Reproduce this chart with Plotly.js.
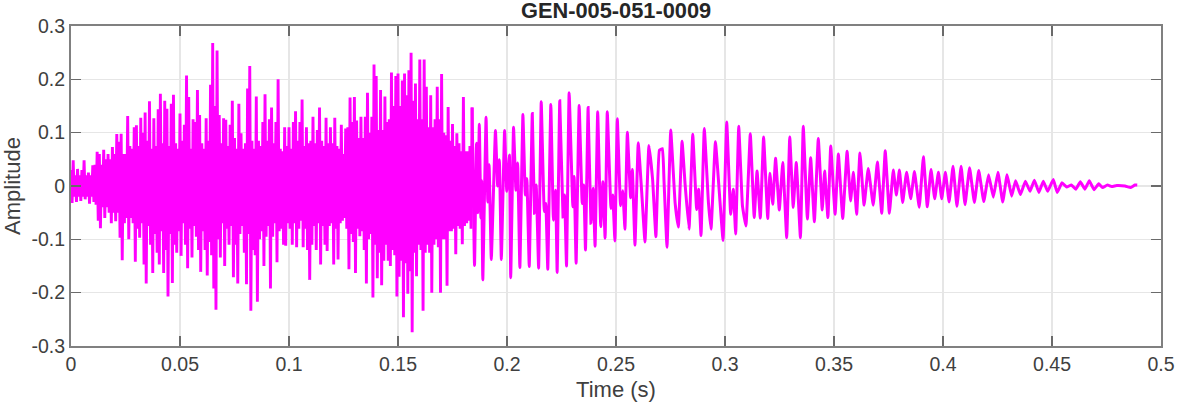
<!DOCTYPE html>
<html>
<head>
<meta charset="utf-8">
<script src="https://cdn.plot.ly/plotly-3.0.1.min.js"></script>
<style>html,body{margin:0;padding:0;background:#fff}#chart{width:1177px;height:404px}</style>
</head>
<body>
<div id="chart"></div>
<script>
const chartTitle = "GEN-005-051-0009";
const xTitle = "Time (s)";
const yTitle = "Amplitude";
const xTickVals = [0,0.05,0.1,0.15,0.2,0.25,0.3,0.35,0.4,0.45,0.5];
const xTickText = ["0","0.05","0.1","0.15","0.2","0.25","0.3","0.35","0.4","0.45","0.5"];
const yTickVals = [-0.3,-0.2,-0.1,0,0.1,0.2,0.3];
const yTickText = ["-0.3","-0.2","-0.1","0","0.1","0.2","0.3"];

// Dense part of the recording, read at one value each 0.5 ms (ten ms per row).
const denseStepSeconds = 0.0005;
const denseAmplitude = [
.03,-.032,.048,-.02,.02,-.03,.032,-.02,.02,-.028,.03,-.02,.048,-.025,.02,-.02,.025,-.033,.02,-.02,
.039,-.03,.04,-.035,.064,-.065,.06,-.079,.04,-.04,.068,-.06,.05,-.04,.06,-.05,.05,-.07,.073,-.05,
.06,-.066,.0975,-.05,.083,-.097,.098,-.139,.06,-.07,.06,-.06,.131,-.1,.075,-.06,.07,-.07,.11,-.142,
.114,-.08,.075,-.097,.128,-.07,.1,-.147,.138,-.183,.085,-.075,.159,-.11,.07,-.163,.127,-.09,.075,-.125,
.144,-.147,.173,-.085,.08,-.163,.16,-.12,.145,-.207,.075,-.09,.154,-.182,.171,-.11,.08,-.125,.07,-.085,
.136,-.131,.085,-.07,.115,-.11,.207,-.154,.167,-.08,.07,-.134,.125,-.075,.12,-.095,.18,-.12,.133,-.161,
.08,-.085,.07,-.12,.127,-.168,.085,-.105,.19,-.13,.268,-.192,.15,-.232,.254,-.1,.133,-.134,.08,-.07,
.127,-.15,.124,-.08,.075,-.11,.115,-.075,.16,-.171,.09,-.11,.07,-.183,.154,-.09,.099,-.075,.07,-.125,
.08,-.184,.183,-.09,.225,-.234,.085,-.12,.07,-.13,.168,-.217,.085,-.1,.075,-.085,.12,-.15,.172,-.095,
.085,-.075,.125,-.192,.147,-.095,.08,-.07,.12,-.143,.2,-.085,.07,-.08,.065,-.11,.11,-.112,.075,-.07,
.11,-.08,.07,-.11,.12,-.07,.14,-.115,.085,-.08,.12,-.065,.162,-.115,.075,-.08,.11,-.12,.08,-.176,
.085,-.11,.13,-.075,.08,-.12,.105,-.07,.147,-.147,.085,-.075,.075,-.11,.128,-.122,.08,-.075,.11,-.07,
.08,-.147,.128,-.08,.075,-.138,.07,-.07,.115,-.065,.06,-.06,.108,-.08,.11,-.156,.166,-.09,.12,-.105,
.167,-.163,.123,-.08,.09,-.094,.13,-.085,.09,-.12,.13,-.183,.175,-.1,.1,-.09,.13,-.209,.228,-.11,
.206,-.173,.105,-.125,.18,-.186,.105,-.14,.168,-.11,.12,-.14,.125,-.15,.213,-.12,.15,-.13,.206,-.207,
.211,-.17,.15,-.14,.198,-.246,.211,-.145,.17,-.202,.217,-.16,.25,-.274,.16,-.125,.192,-.169,.125,-.11,
.237,-.12,.125,-.234,.237,-.125,.186,-.11,.11,-.125,.17,-.2,.11,-.11,.125,-.1,.186,-.115,.125,-.2,
.21,-.1,.1,-.1,.095,-.187,.148,-.085,.085,-.085,.116,-.08,.075,-.128,.099,-.075,.08,-.08,.065,-.109,
.167,-.075,.065,-.07,.065,-.065,.075,-.08,.147
];

// Open part of the recording: turning points, time in milliseconds.
const tailMs = [
184,185.1,186,186.6,187.3,188,188.4,188.9,190.4,191.2,191.8,192.8,194.7,195.7,196.5,197.4,198.9,199.9,201.1,201.7,
203,204.1,204.9,205.9,207.3,208.4,209.1,210.2,211.6,212.6,213.4,214.5,215.7,217.1,217.8,218.7,220.1,221.3,222.3,223,
224.2,225.7,226.4,227.3,228.5,230.2,230.8,231.7,233.1,234.5,235.2,236,237.2,238.5,239.5,240.4,241.6,243,244,245,
246,247.7,248.5,249.5,250.6,252.1,253.1,254.1,255.2,256.7,257.5,258.7,260.2,261.8,263.3,265.1,266.8,268.3,269.9,271.3,
272,273.4,275.1,277.1,278.6,280.3,281.7,283.5,285.2,287,287.9,289,290.5,292.4,293.6,295.6,297.4,299.1,300.8,302.6,
303.8,304.9,306.3,308,309.6,311.6,313.4,314.7,316.2,317.7,319.6,320.6,321.9,323.2,324.9,326.5,328.3,329.7,331.3,332.7,
334.6,335.9,337.8,339.3,341,342.8,344.6,345.7,347.2,348.5,350.5,352,354,356,357.6,358.9,360.4,361.9,363.8,365.7,
368,369.9,371.9,373.5,375.4,377.2,378.6,380,381.5,383.3,385.2,386.9,389.1,391,392.8,394.5,396.2,397.9,399.4,401.1,
402.8,404.6,406.4,408.3,410.1,412.2,414.4,416.4,418.7,420.9,423.1,425.2,427.4,429.4,431.5,433.3,435.5,437.8,439.9,441.9,
444,446,448,450.6,452.4,454.6,456.7,458.9,460.9,463,465.1,467.1,469.3,471.4,473.2,475.4,477.4,479.7,483.5,486.1,
488.1,489.1
];
const tailAmplitude = [
.147,-.149,.08,-.05,.116,-.06,.01,-.176,.129,-.03,.04,-.138,.104,0,.049,-.138,.104,-.01,.058,-.172,
.11,-.008,.043,-.153,.134,-.017,.014,-.151,.136,-.051,.002,-.154,.158,-.048,-.033,-.156,.153,-.064,-.008,-.162,
.16,-.058,-.017,-.15,.175,-.039,.018,-.145,.151,-.033,.002,-.12,.147,-.07,-.004,-.113,.139,-.076,.008,-.098,
.139,-.042,-.017,-.103,.126,-.037,-.009,-.081,.101,-.022,.031,-.111,.081,-.012,-.105,.076,.012,-.095,.067,.07,
.012,-.115,.105,-.031,-.077,.084,.003,-.081,.097,-.044,-.006,-.093,.108,-.031,-.081,.083,-.012,-.102,.12,-.053,
-.006,-.09,.112,-.037,-.075,.098,-.059,.028,-.06,.092,-.061,.024,-.034,.052,-.045,.044,-.097,.092,-.04,.044,
-.097,.112,-.062,.053,-.067,.089,-.045,.028,-.059,.075,-.053,.06,-.061,.065,-.028,.026,-.053,.062,-.036,.033,
-.036,.045,-.051,.066,-.051,.03,-.017,.03,-.031,.026,-.024,.027,-.04,.055,-.039,.031,-.024,.026,-.024,.026,
-.03,.037,-.038,.037,-.035,.034,-.031,.029,-.029,.021,-.021,.026,-.03,.021,-.019,.01,-.016,.009,-.01,.011,
-.012,.009,-.01,.012,-.012,.006,-.002,.002,-.006,.008,-.006,.01,-.007,.004,-.003,.002,-.001,.001,0,-.003,
.002,.002
];

const lineColor = "#ff00ff";
const denseTime = denseAmplitude.map((_, i) => i * denseStepSeconds);
const tailTime = tailMs.map(v => v / 1000);

const traces = [
  {type:"scatter", mode:"lines", x:denseTime, y:denseAmplitude,
   line:{color:lineColor, width:2.9, simplify:false}, hoverinfo:"skip"},
  {type:"scatter", mode:"lines", x:tailTime, y:tailAmplitude,
   line:{color:lineColor, width:3, shape:"spline", smoothing:0.3, simplify:false}, hoverinfo:"skip"}
];

const font = '"Liberation Sans", Arial, sans-serif';
const axisCommon = {
  showgrid:true, gridcolor:"#e6e6e6", gridwidth:1.5, zeroline:false,
  showline:true, linecolor:"#808080", linewidth:2, mirror:"allticks",
  ticks:"inside", ticklen:10, tickwidth:1.5, tickcolor:"#6a6a6a",
  tickmode:"array", tickfont:{family:font, size:19.5, color:"#404040"},
  automargin:false
};

const layout = {
  width:1177, height:404,
  paper_bgcolor:"#ffffff", plot_bgcolor:"#ffffff",
  showlegend:false, hovermode:false,
  margin:{l:71, r:16, t:26, b:58, pad:0},
  title:{text:"<b>"+chartTitle+"</b>", font:{family:font, size:21.8, color:"#262626"},
         x:0.5234, xanchor:"center", y:0.975, yanchor:"middle"},
  xaxis:Object.assign({}, axisCommon, {
    range:[0,0.5], tickvals:xTickVals, ticktext:xTickText, tickangle:0,
    title:{text:xTitle, font:{family:font, size:22, color:"#404040"}, standoff:7}
  }),
  yaxis:Object.assign({}, axisCommon, {
    range:[-0.3,0.3], tickvals:yTickVals, ticktext:yTickText,
    title:{text:yTitle, font:{family:font, size:22, color:"#404040"}, standoff:7}
  })
};

Plotly.newPlot("chart", traces, layout, {displayModeBar:false, staticPlot:true});
</script>
</body>
</html>
